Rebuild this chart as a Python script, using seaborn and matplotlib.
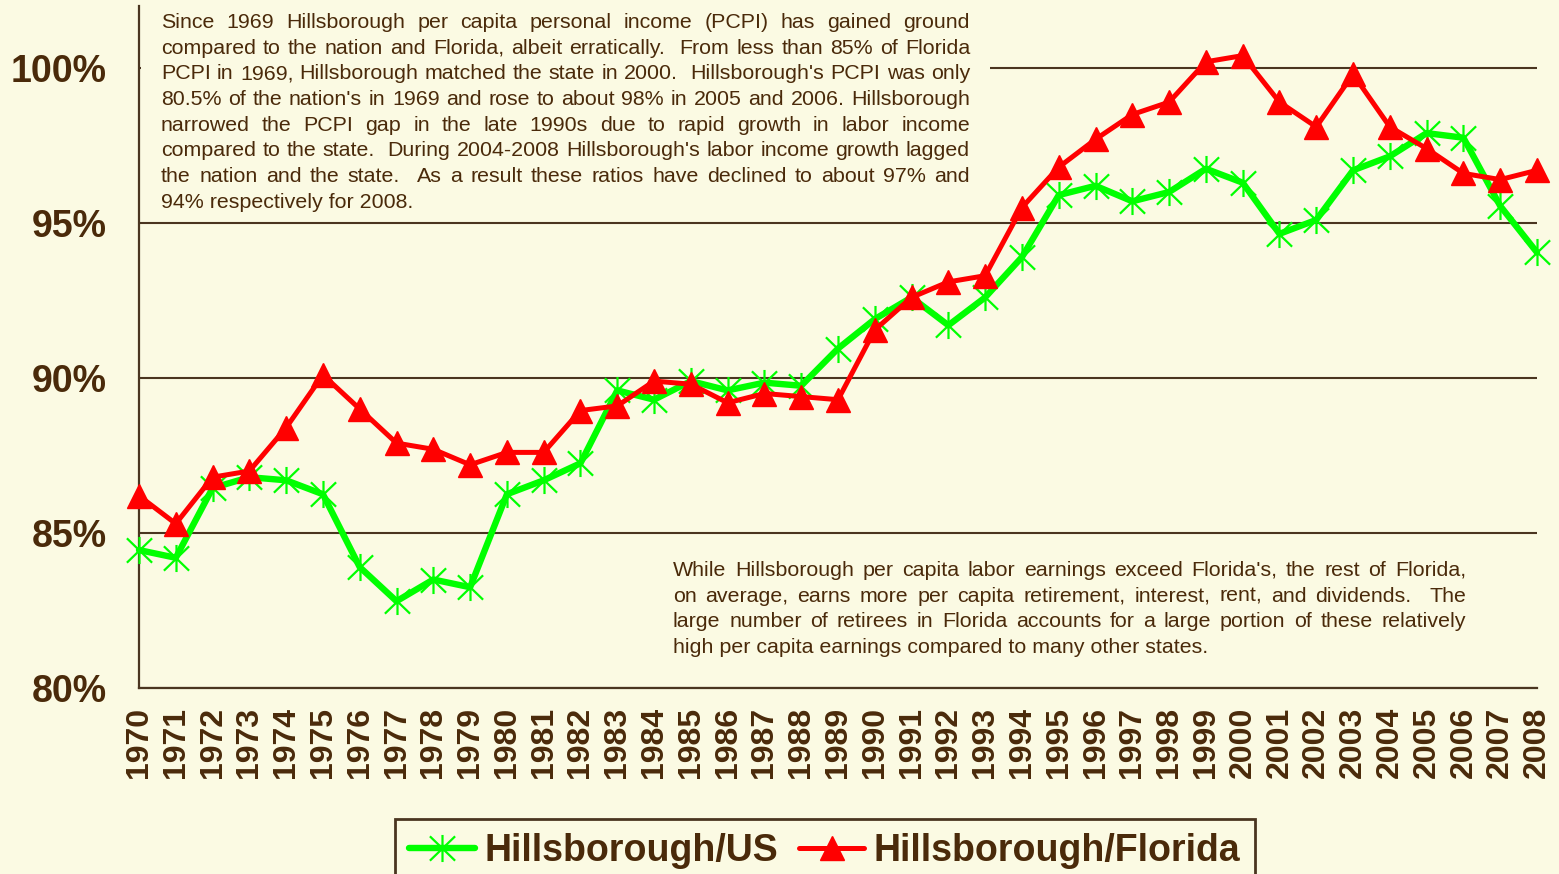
import matplotlib
matplotlib.use("Agg")
import matplotlib.pyplot as plt
from matplotlib import font_manager
from matplotlib.path import Path
from matplotlib.patches import Rectangle
import seaborn as sns
import pandas as pd

# ---------------- data ----------------
years = list(range(1970, 2009))
hills_us = [84.45, 84.2, 86.45, 86.8, 86.7, 86.25, 83.9, 82.8, 83.5, 83.25,
            86.25, 86.7, 87.25, 89.6, 89.3, 89.9, 89.6, 89.85, 89.75, 90.95,
            91.9, 92.6, 91.7, 92.6, 93.9, 95.9, 96.2, 95.7, 96.0, 96.75,
            96.3, 94.65, 95.1, 96.7, 97.15, 97.9, 97.75, 95.55, 94.05]
hills_fl = [86.2, 85.3, 86.8, 87.0, 88.4, 90.1, 89.0, 87.9, 87.7, 87.2,
            87.6, 87.6, 88.95, 89.1, 89.9, 89.8, 89.2, 89.5, 89.4, 89.3,
            91.55, 92.6, 93.1, 93.3, 95.5, 96.8, 97.7, 98.5, 98.9, 100.2,
            100.4, 98.9, 98.1, 99.8, 98.1, 97.4, 96.6, 96.4, 96.7]
series_names = ["Hillsborough/US", "Hillsborough/Florida"]
y_ticks = [80, 85, 90, 95, 100]
y_tick_labels = ["80%", "85%", "90%", "95%", "100%"]

note_top = [
    "Since 1969 Hillsborough per capita personal income (PCPI) has gained ground",
    "compared to the nation and Florida, albeit erratically.  From less than 85% of Florida",
    "PCPI in 1969, Hillsborough matched the state in 2000.  Hillsborough's PCPI was only",
    "80.5% of the nation's in 1969 and rose to about 98% in 2005 and 2006. Hillsborough",
    "narrowed the PCPI gap in the late 1990s due to rapid growth in labor income",
    "compared to the state.  During 2004-2008 Hillsborough's labor income growth lagged",
    "the nation and the state.  As a result these ratios have declined to about 97% and",
    "94% respectively for 2008.",
]
note_bottom = [
    "While Hillsborough per capita labor earnings exceed Florida's, the rest of Florida,",
    "on average, earns more per capita retirement, interest, rent, and dividends.  The",
    "large number of retirees in Florida accounts for a large portion of these relatively",
    "high per capita earnings compared to many other states.",
]

# ---------------- style ----------------
BG = "#FBFAE3"
BROWN = "#4A2A0A"
GRID = "#4A3520"
W, H = 1559, 874

sns.set_style("white")
installed = {f.name for f in font_manager.fontManager.ttflist}
NARROW = "Liberation Sans Narrow" in installed
plt.rcParams["font.family"] = ["Liberation Sans", "DejaVu Sans"]
year_font = "Liberation Sans Narrow" if NARROW else "Liberation Sans"
year_size = 28 if NARROW else 23
leg_size = 32.5 if NARROW else 27

fig = plt.figure(figsize=(W / 100, H / 100), dpi=100, facecolor=BG)
ax = fig.add_axes([139 / W, (H - 688) / H, (1537 - 139) / W, (688 - 6) / H])
ax.set_facecolor(BG)

df = pd.DataFrame({"year": years, "us": hills_us, "fl": hills_fl})

asterisk = Path(
    [(0, -1), (0, 1), (-0.93, -0.9), (0.93, 0.9), (-0.93, 0.9), (0.93, -0.9)],
    [Path.MOVETO, Path.LINETO, Path.MOVETO, Path.LINETO, Path.MOVETO, Path.LINETO],
)

sns.lineplot(data=df, x="year", y="us", ax=ax, color="#00FF00", lw=4.6,
             marker=asterisk, ms=19.5, mew=1.6, mec="#00FF00", mfc="none",
             label=series_names[0], clip_on=False, zorder=3)
sns.lineplot(data=df, x="year", y="fl", ax=ax, color="#FF0000", lw=3.6,
             marker="^", ms=17, mew=1, mec="#FF0000", mfc="#FF0000",
             label=series_names[1], clip_on=False, zorder=4)

ax.set_xlim(1970, 2008)
ax.set_ylim(80, 102)
ax.set_xticks(years)
ax.set_xticklabels([str(y) for y in years], rotation=90,
                   fontfamily=year_font, fontsize=year_size,
                   fontweight="bold", color=BROWN)
ax.set_yticks(y_ticks)
ax.set_yticklabels(y_tick_labels, fontsize=27, fontweight="bold", color=BROWN)
ax.set_xlabel("")
ax.set_ylabel("")
ax.tick_params(axis="x", direction="out", length=7, width=1.5, color=GRID, pad=6.5)
ax.tick_params(axis="y", direction="out", length=9, width=1.5, color=GRID, pad=14)
for s in ["top", "right"]:
    ax.spines[s].set_visible(False)
for s in ["left", "bottom"]:
    ax.spines[s].set_color(GRID)
    ax.spines[s].set_linewidth(1.6)
ax.set_axisbelow(True)
ax.yaxis.grid(True, color=GRID, lw=1.5)
ax.xaxis.grid(False)

# background of the top note box covering grid line
ax.add_patch(Rectangle((141 / W, 1 - 214 / H), (990 - 141) / W, 214 / H,
                       transform=fig.transFigure, facecolor=BG,
                       edgecolor="none", zorder=1))

# legend
handles, labels = ax.get_legend_handles_labels()
ax.get_legend().remove()
leg = fig.legend(handles, labels, loc="upper center",
                 bbox_to_anchor=(825 / W, 1 - 800 / H), ncol=2,
                 frameon=True, fancybox=False, facecolor=BG, framealpha=1,
                 edgecolor=GRID, handlelength=1.75, handletextpad=0.25,
                 columnspacing=0.55, borderpad=0.38,
                 prop={"family": year_font, "size": leg_size, "weight": "bold"})
leg.get_frame().set_linewidth(2)
for t in leg.get_texts():
    t.set_color(BROWN)

# justified notes
renderer = fig.canvas.get_renderer()


def justified(lines, x0, x1, y0, dy, size):
    for i, line in enumerate(lines):
        y = 1 - (y0 + i * dy) / H
        if i == len(lines) - 1:
            fig.text(x0 / W, y, line, fontsize=size, color=BROWN,
                     ha="left", va="baseline")
            continue
        tokens = line.split(" ")
        words, gaps, k = [], [], 0
        for tok in tokens:
            if tok == "":
                k += 1
                continue
            if words:
                gaps.append(k)
            words.append(tok)
            k = 1
        texts = [fig.text(0, y, w, fontsize=size, color=BROWN,
                          ha="left", va="baseline") for w in words]
        widths = [t.get_window_extent(renderer=renderer).width for t in texts]
        unit = (x1 - x0 - sum(widths)) / max(sum(gaps), 1)
        x = x0
        for j, (t, w) in enumerate(zip(texts, widths)):
            t.set_x(x / W)
            if j < len(gaps):
                x += w + gaps[j] * unit


justified(note_top, 161, 970, 28, 25.65, 15.4)
justified(note_bottom, 673, 1466, 576, 25.6, 15.4)

fig.savefig("out.png", dpi=100, facecolor=BG)
